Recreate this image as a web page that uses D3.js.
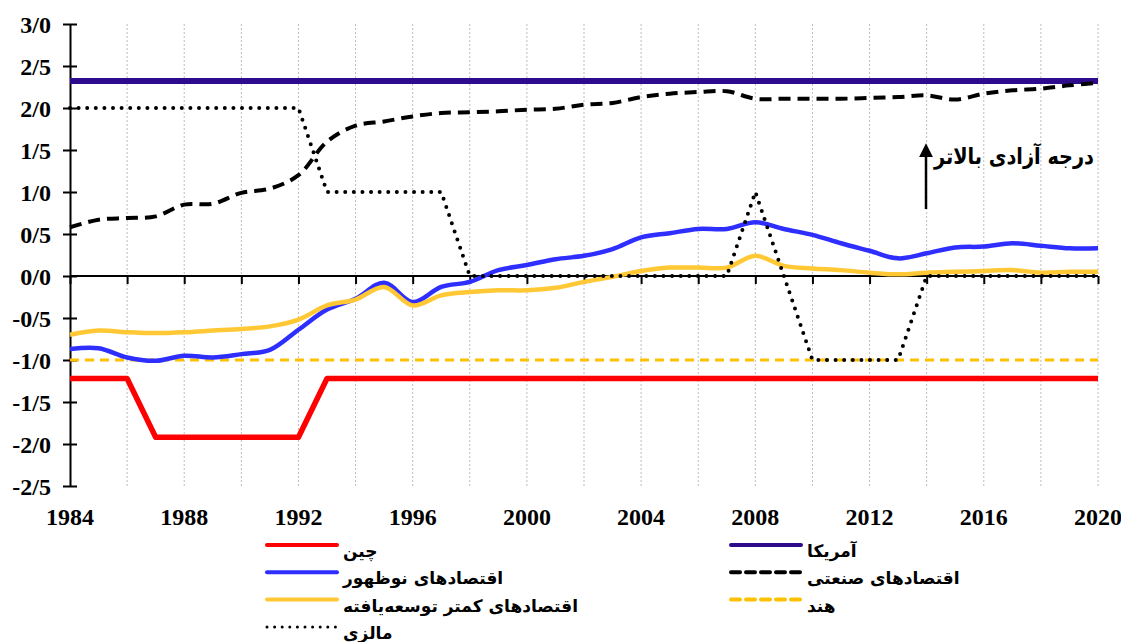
<!DOCTYPE html>
<html>
<head>
<meta charset="utf-8">
<script src="https://cdn.jsdelivr.net/npm/d3@7"></script>
<style>
  html, body { margin: 0; padding: 0; background: #fff; }
  svg { display: block; }
  .num { font-family: "Liberation Serif", "Times New Roman", serif; font-weight: bold; fill: #000; }
  .fa { font-family: "DejaVu Sans", "Noto Sans", sans-serif; font-weight: bold; fill: #000; }
</style>
</head>
<body>
<svg id="chart" width="1121" height="642"></svg>
<script>
// Years 1984–2020
const years = d3.range(1984, 2021);

// Index values per economy
const usa = years.map(() => 2.32);
const china = [-1.22, -1.22, -1.22, -1.92, -1.92, -1.92, -1.92, -1.92, -1.92, -1.22,
  -1.22, -1.22, -1.22, -1.22, -1.22, -1.22, -1.22, -1.22, -1.22, -1.22,
  -1.22, -1.22, -1.22, -1.22, -1.22, -1.22, -1.22, -1.22, -1.22, -1.22,
  -1.22, -1.22, -1.22, -1.22, -1.22, -1.22, -1.22];
const india = years.map(() => -1.0);
const malaysia = [2, 2, 2, 2, 2, 2, 2, 2, 2, 1,
  1, 1, 1, 1, 0, 0, 0, 0, 0, 0,
  0, 0, 0, 0, 1, 0, -1, -1, -1, -1,
  0, 0, 0, 0, 0, 0, 0];
const industrial = [0.58, 0.67, 0.69, 0.71, 0.85, 0.86, 0.99, 1.04, 1.20, 1.60,
  1.79, 1.84, 1.90, 1.94, 1.95, 1.96, 1.98, 1.99, 2.04, 2.06,
  2.13, 2.17, 2.19, 2.20, 2.11, 2.11, 2.11, 2.11, 2.12, 2.13,
  2.15, 2.10, 2.17, 2.21, 2.23, 2.27, 2.30];
const emerging = [-0.87, -0.86, -0.97, -1.01, -0.95, -0.97, -0.93, -0.88, -0.64, -0.40,
  -0.27, -0.08, -0.31, -0.13, -0.07, 0.07, 0.13, 0.20, 0.24, 0.32,
  0.46, 0.51, 0.56, 0.56, 0.64, 0.56, 0.49, 0.39, 0.30, 0.21,
  0.27, 0.34, 0.35, 0.39, 0.36, 0.33, 0.33];
const leastDeveloped = [-0.70, -0.65, -0.67, -0.68, -0.67, -0.65, -0.63, -0.60, -0.52, -0.35,
  -0.28, -0.13, -0.35, -0.23, -0.19, -0.17, -0.17, -0.14, -0.07, -0.01,
  0.06, 0.10, 0.10, 0.10, 0.24, 0.12, 0.09, 0.07, 0.04, 0.02,
  0.04, 0.05, 0.06, 0.07, 0.04, 0.05, 0.05];

// Axis tick values and labels
const yTicks = [3, 2.5, 2, 1.5, 1, 0.5, 0, -0.5, -1, -1.5, -2, -2.5];
const xLabelYears = [1984, 1988, 1992, 1996, 2000, 2004, 2008, 2012, 2016, 2020];
const xMinorYears = d3.range(1984, 2021, 2);
const fmtY = v => (v < 0 ? "-" : "") + Math.abs(v).toFixed(1).replace(".", "/");

// Series definitions, in drawing order
const series = [
  { name: "هند", values: india, color: "#FFC000", width: 3, dash: "9,6", smooth: false, cap: "butt" },
  { name: "چین", values: china, color: "#FF0000", width: 5.5, dash: null, smooth: false, cap: "butt" },
  { name: "آمریکا", values: usa, color: "#2E0B8C", width: 6, dash: null, smooth: false, cap: "butt" },
  { name: "اقتصادهای صنعتی", values: industrial, color: "#000000", width: 4, dash: "12,7", smooth: true, cap: "butt" },
  { name: "اقتصادهای نوظهور", values: emerging, color: "#2E2EFF", width: 4.5, dash: null, smooth: true, cap: "butt" },
  { name: "اقتصادهای کمتر توسعه‌یافته", values: leastDeveloped, color: "#FFC834", width: 4.5, dash: null, smooth: true, cap: "butt" },
  { name: "مالزی", values: malaysia, color: "#000000", width: 4, dash: "0,8.6", smooth: false, cap: "round" }
];

const svg = d3.select("#chart");
const x = d3.scaleLinear().domain([1984, 2020]).range([70, 1098]);
const y = d3.scaleLinear().domain([-2.5, 3]).range([486, 24]);

// Vertical dotted gridlines
svg.append("g").selectAll("line").data(xMinorYears.filter(d => d > 1984)).join("line")
  .attr("x1", d => x(d)).attr("x2", d => x(d))
  .attr("y1", y(3)).attr("y2", y(-2.5))
  .attr("stroke", "#BDBDBD").attr("stroke-width", 1).attr("stroke-dasharray", "2,2");

// Y axis
const yAxis = d3.axisLeft(y).tickValues(yTicks).tickSize(0).tickFormat(fmtY);
const yg = svg.append("g").attr("transform", `translate(${x(1984)},0)`).call(yAxis);
yg.select(".domain").attr("stroke", "#000").attr("stroke-width", 2);
yg.selectAll(".tick text").attr("class", "num").attr("x", -19).attr("font-size", 24).attr("dy", "0.34em");
yg.selectAll(".tick").append("line").attr("x1", -7).attr("x2", 7).attr("stroke", "#000").attr("stroke-width", 2);

// X axis along zero
const xAxis = d3.axisBottom(x).tickValues(xMinorYears).tickSize(8).tickFormat("");
const xg = svg.append("g").attr("transform", `translate(0,${y(0)})`).call(xAxis);
xg.select(".domain").attr("stroke", "#000").attr("stroke-width", 2).attr("d", `M${x(1984)},0H${x(2020)}`);
xg.selectAll(".tick line").attr("stroke", "#000").attr("stroke-width", 2);

// Year labels under the plot
svg.append("g").selectAll("text").data(xLabelYears).join("text")
  .attr("class", "num").attr("font-size", 24)
  .attr("x", d => x(d)).attr("y", 525).attr("text-anchor", "middle")
  .text(d => d);

// Lines
const lineFor = s => d3.line()
  .x((d, i) => x(years[i])).y(d => y(d))
  .curve(s.smooth ? d3.curveCatmullRom.alpha(0.5) : d3.curveLinear);

svg.append("g").selectAll("path").data(series).join("path")
  .attr("d", s => lineFor(s)(s.values))
  .attr("fill", "none")
  .attr("stroke", s => s.color)
  .attr("stroke-width", s => s.width)
  .attr("stroke-dasharray", s => s.dash)
  .attr("stroke-linecap", s => s.cap)
  .attr("stroke-linejoin", "round");

// Annotation arrow and label
svg.append("defs").append("marker")
  .attr("id", "arrowHead").attr("viewBox", "0 0 10 10")
  .attr("refX", 5).attr("refY", 5).attr("markerWidth", 5.5).attr("markerHeight", 5.5)
  .attr("orient", "auto")
  .append("path").attr("d", "M0,0L10,5L0,10Z").attr("fill", "#000");
svg.append("line")
  .attr("x1", 926).attr("x2", 926).attr("y1", 209).attr("y2", 150)
  .attr("stroke", "#000").attr("stroke-width", 2.5)
  .attr("marker-end", "url(#arrowHead)");
svg.append("text").attr("class", "fa").attr("font-size", 22)
  .attr("x", 1094).attr("y", 164).attr("text-anchor", "end")
  .attr("textLength", 160).attr("lengthAdjust", "spacingAndGlyphs")
  .text("درجه آزادی بالاتر");

// Legend in two columns
const legendLeft = ["چین", "اقتصادهای نوظهور", "اقتصادهای کمتر توسعه‌یافته", "مالزی"];
const legendRight = ["آمریکا", "اقتصادهای صنعتی", "هند"];
const legendCols = [{ names: legendLeft, x0: 267 }, { names: legendRight, x0: 731 }];
legendCols.forEach(col => {
  col.names.forEach((name, i) => {
    const s = series.find(d => d.name === name);
    const dotted = s.dash === "0,8.6";
    const g = svg.append("g").attr("transform", `translate(${col.x0},${545 + i * 27.3})`);
    g.append("line").attr("x1", 0).attr("x2", 70)
      .attr("stroke", s.color).attr("stroke-width", dotted ? 3 : 4)
      .attr("stroke-dasharray", dotted ? "0,7.6" : (s.dash ? "9,6" : null))
      .attr("stroke-linecap", "round");
    g.append("text").attr("class", "fa").attr("font-size", 17)
      .attr("x", 76).attr("y", 12).text(name);
  });
});
</script>
</body>
</html>
